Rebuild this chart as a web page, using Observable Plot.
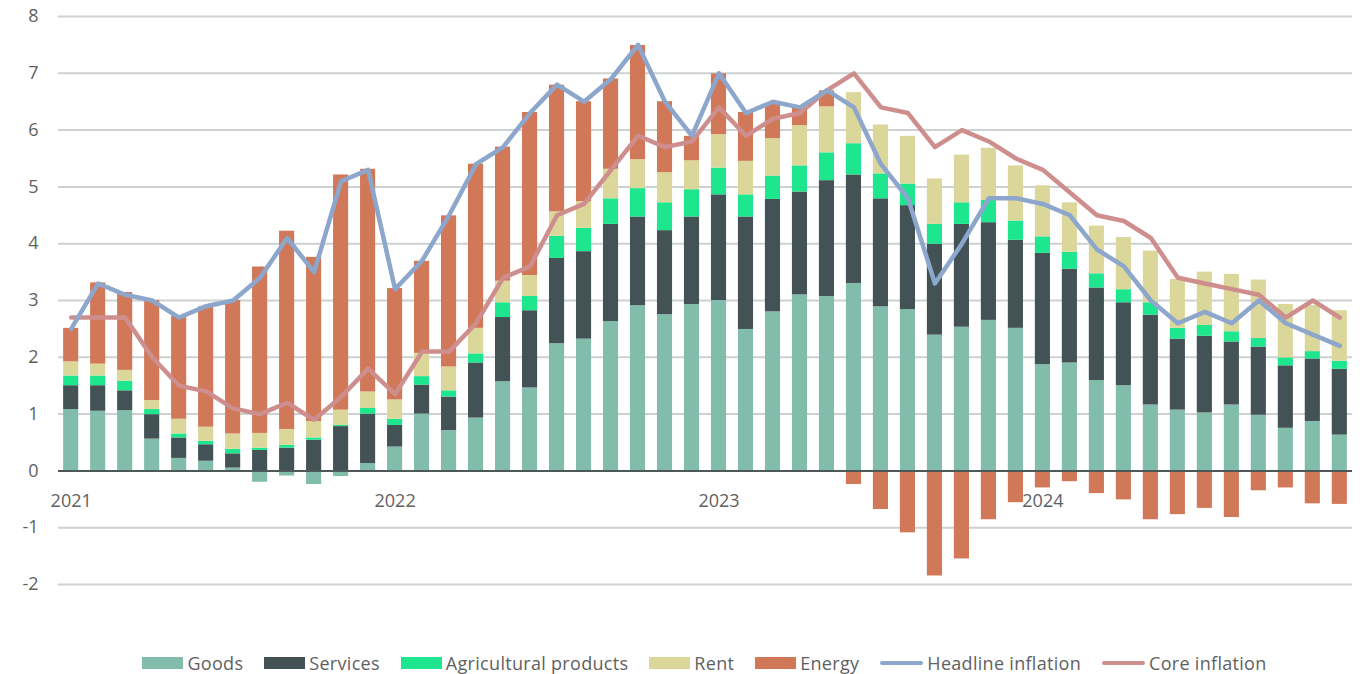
<!DOCTYPE html>
<html>
<head>
<meta charset="utf-8">
<script src="https://cdn.jsdelivr.net/npm/d3@7"></script>
<script src="https://cdn.jsdelivr.net/npm/@observablehq/plot@0.6"></script>
<style>
  body { margin: 0; background: #fff; font-family: "Open Sans", sans-serif; }
  #chart { position: relative; width: 1363px; height: 674px; overflow: hidden; }
  .legend { position: absolute; top: 652px; left: 0; width: 1363px; box-sizing: border-box;
            padding-left: 46px; display: flex; justify-content: center; align-items: center;
            font-size: 18px; line-height: 22px; color: #5f6161; letter-spacing: 0.3px; }
  .item { display: flex; align-items: center; margin: 0 10.5px; }
  .sw { width: 41px; height: 12px; margin-right: 4px; }
  .ln { width: 43px; height: 4px; border-radius: 2px; margin-right: 4px; }
</style>
</head>
<body>
<div id="chart"></div>
<script>
// ---- data (percentage-point contributions, monthly Jan 2021 – Dec 2024) ----
const months = d3.utcMonths(new Date(Date.UTC(2021, 0, 1)), new Date(Date.UTC(2025, 0, 1)))
  .map(d => d3.utcFormat("%Y-%m")(d));

const goods = [1.08,1.05,1.06,0.56,0.22,0.17,0.05,-0.20,-0.09,-0.24,-0.10,0.13,
               0.42,1.00,0.71,0.93,1.57,1.46,2.24,2.32,2.63,2.91,2.75,2.93,
               3.00,2.49,2.80,3.10,3.07,3.30,2.89,2.84,2.39,2.53,2.65,2.51,
               1.87,1.90,1.59,1.50,1.16,1.07,1.02,1.16,0.98,0.75,0.87,0.63];
const services = [0.42,0.45,0.35,0.43,0.36,0.29,0.25,0.36,0.40,0.54,0.78,0.87,
                  0.38,0.51,0.59,0.97,1.13,1.36,1.50,1.54,1.71,1.56,1.48,1.54,
                  1.86,1.98,1.98,1.81,2.04,1.91,1.90,1.83,1.60,1.81,1.72,1.55,
                  1.96,1.65,1.63,1.46,1.58,1.25,1.35,1.11,1.20,1.10,1.10,1.16];
const agri = [0.17,0.17,0.17,0.09,0.07,0.06,0.08,0.04,0.05,0.04,0.02,0.10,
              0.11,0.15,0.11,0.16,0.26,0.25,0.39,0.41,0.45,0.50,0.49,0.48,
              0.47,0.39,0.41,0.46,0.49,0.55,0.44,0.38,0.35,0.38,0.39,0.34,
              0.29,0.30,0.25,0.23,0.22,0.19,0.19,0.18,0.15,0.14,0.13,0.14];
const rent = [0.25,0.21,0.19,0.16,0.26,0.25,0.27,0.26,0.28,0.29,0.27,0.29,
              0.34,0.41,0.42,0.45,0.38,0.37,0.43,0.47,0.52,0.51,0.53,0.51,
              0.59,0.59,0.66,0.71,0.81,0.90,0.86,0.84,0.80,0.84,0.92,0.97,
              0.90,0.87,0.84,0.92,0.91,0.86,0.94,1.01,1.03,0.94,0.81,0.89];
const energy = [0.59,1.43,1.37,1.76,1.81,2.12,2.35,2.93,3.49,2.89,4.14,3.92,
                1.96,1.62,2.66,2.89,2.36,2.87,2.23,1.76,1.59,2.01,1.25,0.43,
                1.07,0.86,0.62,0.33,0.28,-0.24,-0.68,-1.09,-1.85,-1.55,-0.86,-0.56,
                -0.30,-0.19,-0.40,-0.51,-0.86,-0.77,-0.66,-0.82,-0.35,-0.30,-0.58,-0.59];
const headline = [2.5,3.3,3.1,3.0,2.7,2.9,3.0,3.4,4.1,3.5,5.1,5.3,
                  3.2,3.7,4.5,5.4,5.7,6.3,6.8,6.5,6.9,7.5,6.5,5.9,
                  7.0,6.3,6.5,6.4,6.7,6.4,5.4,4.8,3.3,4.0,4.8,4.8,
                  4.7,4.5,3.9,3.6,3.0,2.6,2.8,2.6,3.0,2.6,2.4,2.2];
const core = [2.7,2.7,2.7,2.0,1.5,1.4,1.1,1.0,1.2,0.9,1.3,1.8,
              1.35,2.1,2.1,2.6,3.4,3.6,4.5,4.7,5.3,5.9,5.7,5.8,
              6.4,5.9,6.2,6.3,6.7,7.0,6.4,6.3,5.7,6.0,5.8,5.5,
              5.3,4.9,4.5,4.4,4.1,3.4,3.3,3.2,3.1,2.7,3.0,2.7];

const barNames = ["Goods", "Services", "Agricultural products", "Rent", "Energy"];
const barColors = ["#82bcab", "#435255", "#1de68e", "#dbd79b", "#d07858"];
const lineNames = ["Headline inflation", "Core inflation"];
const lineColors = ["#8ca6cc", "#cf8e8e"];
const yTicks = [-2, -1, 0, 1, 2, 3, 4, 5, 6, 7, 8];
const yearLabels = ["2021", "2022", "2023", "2024"];

// ---- tables built from the arrays ----
const barSeries = [goods, services, agri, rent, energy];
const barRows = barSeries.flatMap((vals, s) =>
  vals.map((v, i) => ({month: months[i], series: barNames[s], value: v})));
const headRows = headline.map((v, i) => ({month: months[i], value: v}));
const coreRows = core.map((v, i) => ({month: months[i], value: v}));
const yearRows = yearLabels.map(y => ({month: y + "-01", label: y}));

const plot = Plot.plot({
  width: 1363,
  height: 640,
  marginTop: 16,
  marginLeft: 58,
  marginRight: 11,
  marginBottom: 56,
  style: {fontFamily: "Open Sans, sans-serif", fontSize: "18px", color: "#5f6161", background: "#fff"},
  x: {type: "band", domain: months, paddingInner: 0.44, paddingOuter: 0.19, axis: null},
  y: {domain: [-2, 8], axis: null},
  color: {domain: barNames, range: barColors},
  marks: [
    Plot.ruleY(yTicks, {stroke: "#cdd1d1", strokeWidth: 2}),
    Plot.axisY(yTicks, {tickSize: 0, tickPadding: 20, fontSize: 18, label: null, tickFormat: d => String(d), fill: "#5f6161"}),
    Plot.barY(barRows, {x: "month", y: "value", fill: "series", order: barNames}),
    Plot.ruleY([0], {stroke: "#4d5858", strokeWidth: 2}),
    Plot.text(yearRows, {x: "month", y: 0, dy: 30, text: "label", fontSize: 18, fill: "#5f6161"}),
    Plot.line(coreRows, {x: "month", y: "value", stroke: lineColors[1], strokeWidth: 4.5, strokeLinejoin: "round", strokeLinecap: "round"}),
    Plot.line(headRows, {x: "month", y: "value", stroke: lineColors[0], strokeWidth: 4.5, strokeLinejoin: "round", strokeLinecap: "round"})
  ]
});

const chart = document.getElementById("chart");
chart.appendChild(plot);

const legend = document.createElement("div");
legend.className = "legend";
barNames.forEach((n, i) => {
  const it = document.createElement("div");
  it.className = "item";
  it.innerHTML = `<span class="sw" style="background:${barColors[i]}"></span><span>${n}</span>`;
  legend.appendChild(it);
});
lineNames.forEach((n, i) => {
  const it = document.createElement("div");
  it.className = "item";
  it.innerHTML = `<span class="ln" style="background:${lineColors[i]}"></span><span>${n}</span>`;
  legend.appendChild(it);
});
chart.appendChild(legend);
</script>
</body>
</html>
